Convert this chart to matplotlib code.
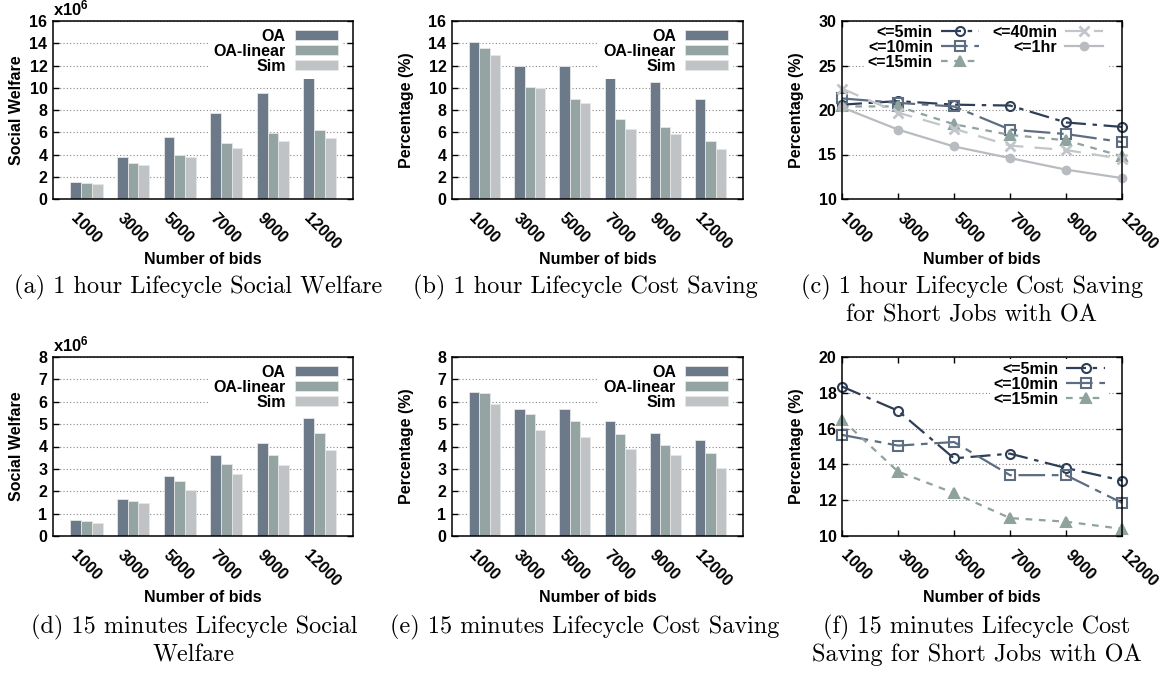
import matplotlib
matplotlib.use('Agg')
import matplotlib.pyplot as plt
import matplotlib.transforms as mtransforms
import numpy as np

plt.rcParams['font.family'] = 'Liberation Sans'
plt.rcParams['font.weight'] = 'bold'
plt.rcParams['mathtext.fontset'] = 'custom'
plt.rcParams['mathtext.bf'] = 'Liberation Sans:bold'
plt.rcParams['mathtext.rm'] = 'Liberation Sans:bold'

bids = ['1000', '3000', '5000', '7000', '9000', '12000']
bar_series = ['OA', 'OA-linear', 'Sim']

# 1 hour lifecycle
sw_1h_oa = [1.5, 3.8, 5.6, 7.7, 9.55, 10.95]
sw_1h_lin = [1.45, 3.2, 4.0, 5.0, 5.95, 6.2]
sw_1h_sim = [1.35, 3.05, 3.75, 4.6, 5.2, 5.45]

cs_1h_oa = [14.1, 12.0, 11.95, 10.85, 10.55, 9.0]
cs_1h_lin = [13.6, 10.1, 9.0, 7.15, 6.5, 5.25]
cs_1h_sim = [12.9, 10.0, 8.65, 6.3, 5.8, 4.5]

short_1h_5 = [20.6, 21.0, 20.6, 20.5, 18.6, 18.1]
short_1h_10 = [21.3, 20.8, 20.4, 17.8, 17.3, 16.4]
short_1h_15 = [20.4, 20.4, 18.4, 17.2, 16.6, 14.8]
short_1h_40 = [22.4, 19.7, 17.9, 16.0, 15.5, 14.5]
short_1h_60 = [20.3, 17.8, 15.9, 14.6, 13.3, 12.35]

# 15 minutes lifecycle
sw_15m_oa = [0.70, 1.67, 2.68, 3.62, 4.16, 5.28]
sw_15m_lin = [0.67, 1.58, 2.45, 3.23, 3.62, 4.59]
sw_15m_sim = [0.60, 1.46, 2.05, 2.78, 3.17, 3.84]

cs_15m_oa = [6.43, 5.67, 5.67, 5.14, 4.59, 4.29]
cs_15m_lin = [6.37, 5.46, 5.16, 4.54, 4.07, 3.69]
cs_15m_sim = [5.92, 4.74, 4.42, 3.89, 3.62, 3.03]

short_15m_5 = [18.35, 17.0, 14.34, 14.6, 13.8, 13.1]
short_15m_10 = [15.65, 15.05, 15.25, 13.4, 13.4, 11.85]
short_15m_15 = [16.5, 13.6, 12.4, 11.0, 10.8, 10.4]

BAR_COLORS = ['#6b7989', '#94a4a2', '#bfc3c6']
LINE_STYLES = {
    '<=5min': dict(color='#2d3e56', ls=(0, (9, 3, 2, 3)), marker='o', mfc='none', ms=6.5),
    '<=10min': dict(color='#5d6e82', ls=(0, (12, 3, 3, 3)), marker='s', mfc='none', ms=6.5),
    '<=15min': dict(color='#8fa39e', ls=(0, (3, 3)), marker='^', mfc='#8fa39e', ms=6.5),
    '<=40min': dict(color='#c2c5c9', ls=(0, (8, 5)), marker='x', mfc='none', ms=7, mew=2),
    '<=1hr': dict(color='#b8bcc0', ls='-', marker='o', mfc='#b8bcc0', ms=5.5),
}

W, H = 1161, 673
fig = plt.figure(figsize=(W / 100, H / 100), dpi=100)


def make_axes(x0, x1, y0, y1):
    return fig.add_axes([x0 / W, 1 - y1 / H, (x1 - x0) / W, (y1 - y0) / H])


def style_axes(ax, ylim, ystep, ylabel, label_x):
    ax.set_ylim(*ylim)
    ax.set_yticks(np.arange(ylim[0], ylim[1] + 0.01, ystep))
    ax.yaxis.grid(True, linestyle=(0, (1, 2)), color='#888888', linewidth=0.8)
    ax.set_axisbelow(True)
    for sp in ax.spines.values():
        sp.set_linewidth(1.1)
    ax.tick_params(axis='y', direction='in', length=4, width=1, labelsize=11.5,
                   right=True, pad=4)
    ax.set_xlabel('Number of bids', fontsize=11.5, fontweight='bold')
    ax.set_ylabel(ylabel, fontsize=11.5, fontweight='bold')
    ax.yaxis.set_label_coords(label_x, 0.5)
    ax.xaxis.set_label_coords(0.5, -0.30)
    for t in ax.get_yticklabels():
        t.set_fontweight('bold')


def rotate_xlabels(ax, dx):
    off = mtransforms.ScaledTranslation(dx / 72, -4 / 72, fig.dpi_scale_trans)
    for t in ax.get_xticklabels():
        t.set_rotation(-45)
        t.set_ha('left')
        t.set_va('top')
        t.set_rotation_mode('anchor')
        t.set_fontsize(11.5)
        t.set_fontweight('bold')
        t.set_transform(t.get_transform() + off)


def bar_panel(ax, oa, lin, sim, ylim, ystep, ylabel, label_x):
    x = np.arange(len(bids))
    w = 0.23
    for i, (vals, name) in enumerate(zip([oa, lin, sim], bar_series)):
        ax.bar(x + (i - 1) * w, vals, w, color=BAR_COLORS[i], label=name,
               edgecolor='#e6e6e6', linewidth=0.6)
    ax.set_xlim(-0.72, 5.72)
    ax.set_xticks(x)
    ax.set_xticklabels(bids)
    ax.tick_params(axis='x', length=0, pad=4)
    style_axes(ax, ylim, ystep, ylabel, label_x)
    rotate_xlabels(ax, -6)
    ax.legend(loc='upper right', bbox_to_anchor=(0.975, 1.0), markerfirst=False,
              handlelength=2.65, handleheight=0.6, handletextpad=0.6,
              labelspacing=0.0, borderpad=0.3, borderaxespad=0.2,
              frameon=True, fancybox=False, framealpha=1, facecolor='white',
              edgecolor='none', prop={'weight': 'bold', 'size': 11.5})


def line_panel(ax, series, ylim, ystep, ncol, anchor, label_x):
    x = np.arange(len(bids))
    for name, vals in series:
        st = LINE_STYLES[name]
        ax.plot(x, vals, color=st['color'], linestyle=st['ls'], linewidth=1.6,
                marker=st['marker'], markerfacecolor=st['mfc'], markersize=st['ms'],
                markeredgewidth=st.get('mew', 1.5), markeredgecolor=st['color'],
                label=name, clip_on=False)
    ax.set_xlim(0, 5)
    ax.set_xticks(x)
    ax.set_xticklabels(bids)
    ax.tick_params(axis='x', direction='in', length=4, width=1, top=True, pad=4)
    style_axes(ax, ylim, ystep, 'Percentage (%)', label_x)
    rotate_xlabels(ax, 5)
    ax.legend(loc='upper right', bbox_to_anchor=anchor, ncol=ncol, markerfirst=False,
              handlelength=2.4, handletextpad=0.5, labelspacing=0.0, columnspacing=0.8,
              borderpad=0.2, borderaxespad=0.0, frameon=True, fancybox=False,
              framealpha=1, facecolor='white', edgecolor='none',
              prop={'weight': 'bold', 'size': 11.5})


ax_a = make_axes(53, 353, 21, 199)
bar_panel(ax_a, sw_1h_oa, sw_1h_lin, sw_1h_sim, (0, 16), 2, 'Social Welfare', -0.097)
ax_a.text(0, 1.015, r'$\mathbf{x10^6}$', transform=ax_a.transAxes, ha='left', va='bottom',
          fontsize=12)

ax_b = make_axes(452, 743, 21, 199)
bar_panel(ax_b, cs_1h_oa, cs_1h_lin, cs_1h_sim, (0, 16), 2, 'Percentage (%)', -0.13)

ax_c = make_axes(842, 1122, 21, 199)
line_panel(ax_c, [('<=5min', short_1h_5), ('<=10min', short_1h_10), ('<=15min', short_1h_15),
                  ('<=40min', short_1h_40), ('<=1hr', short_1h_60)],
           (10, 30), 5, 2, (0.945, 0.995), -0.136)

ax_d = make_axes(53, 353, 357, 536)
bar_panel(ax_d, sw_15m_oa, sw_15m_lin, sw_15m_sim, (0, 8), 1, 'Social Welfare', -0.097)
ax_d.text(0, 1.015, r'$\mathbf{x10^6}$', transform=ax_d.transAxes, ha='left', va='bottom',
          fontsize=12)

ax_e = make_axes(452, 743, 357, 536)
bar_panel(ax_e, cs_15m_oa, cs_15m_lin, cs_15m_sim, (0, 8), 1, 'Percentage (%)', -0.13)

ax_f = make_axes(842, 1122, 357, 536)
line_panel(ax_f, [('<=5min', short_15m_5), ('<=10min', short_15m_10), ('<=15min', short_15m_15)],
           (10, 20), 2, 1, (0.95, 0.99), -0.136)

# captions
captions = [
    (198, 287, '(a) 1 hour Lifecycle Social Welfare'),
    (585, 287, '(b) 1 hour Lifecycle Cost Saving'),
    (972, 287, '(c) 1 hour Lifecycle Cost Saving'),
    (972, 315, 'for Short Jobs with OA'),
    (194, 627, '(d) 15 minutes Lifecycle Social'),
    (194, 655, 'Welfare'),
    (585, 627, '(e) 15 minutes Lifecycle Cost Saving'),
    (977, 627, '(f) 15 minutes Lifecycle Cost'),
    (977, 655, 'Saving for Short Jobs with OA'),
]
for cx, cy, txt in captions:
    fig.text(cx / W, 1 - cy / H, txt, ha='center', va='center', fontsize=17.5,
             family='cmr10', fontweight='normal')

fig.savefig('out.png', dpi=100)
